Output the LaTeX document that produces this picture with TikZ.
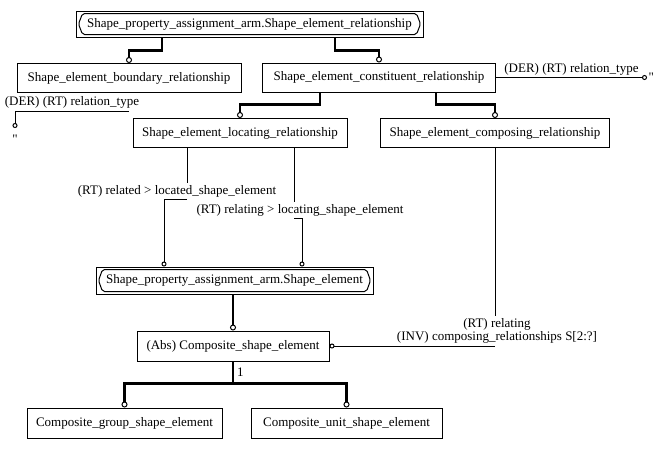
\documentclass[tikz,border=0pt]{standalone}
\usepackage{fontspec}
\setmainfont{Liberation Serif}
\usetikzlibrary{arrows.meta,calc}
\tikzset{
  box/.style={draw,line width=1pt,inner sep=0pt,minimum height=29},
  sub/.style={line width=2.4pt,-{Circle[open,length=6pt,line width=1pt]}},
  attr/.style={line width=1pt,-{Circle[open,length=5pt]}},
  lbl/.style={inner sep=2pt,align=center}
}
\begin{document}
\begin{tikzpicture}[x=1pt,y=-1pt,line width=1pt,font=\fontsize{13}{13.5}\selectfont]
        \useasboundingbox (0,0) rectangle (669,448);
        \node[box,minimum width=347,minimum height=26] (ser) at (249.5,24) {Shape\_property\_assignment\_arm.Shape\_element\_relationship};
        \node[box,minimum width=224] (sebr) at (129,78) {Shape\_element\_boundary\_relationship};
        \node[box,minimum width=233] (secr) at (379,77.5) {Shape\_element\_constituent\_relationship};
        \node[box,minimum width=214] (selr) at (240,133) {Shape\_element\_locating\_relationship};
        \node[box,minimum width=229] (secpr) at (495,133) {Shape\_element\_composing\_relationship};
        \node[box,minimum width=277,minimum height=27] (se) at (234.5,280.5) {Shape\_property\_assignment\_arm.Shape\_element};
        \node[box,minimum width=192,minimum height=30] (cse) at (233,346) {(Abs) Composite\_shape\_element};
        \node[box,minimum width=195,minimum height=30] (cgse) at (124.5,423) {Composite\_group\_shape\_element};
        \node[box,minimum width=191,minimum height=30] (cuse) at (346.5,423) {Composite\_unit\_shape\_element};
        \foreach \n in {ser,se}
          \draw[rounded corners=2pt] ($(\n.west)+(3,0)$) -- ($(\n.north west)+(7,3)$) -- ($(\n.north east)+(-7,3)$)
            -- ($(\n.east)+(-3,0)$) -- ($(\n.south east)+(-7,-3)$) -- ($(\n.south west)+(7,-3)$) -- cycle;

        \draw[sub] (162,0 |- ser.south) -- ++(0,13) -| (sebr.north);
        \draw[sub] (335,0 |- ser.south) -- ++(0,13) -| (secr.north);
        \draw[sub] (320,0 |- secr.south) -- ++(0,12) -| (selr.north);
        \draw[sub] (436,0 |- secr.south) -- ++(0,12) -| (secpr.north);
        \draw[sub] (cse.north |- se.south) -- (cse.north);
        \draw[line width=2.4pt] (cse.south) -- ++(0,22) coordinate (cj) node[midway,right,inner sep=3pt] (one) {1};
        \draw[sub] (cj) -| (cgse.north);
        \draw[sub] (cj) -| (cuse.north);

        \draw[attr] (secr.east) -- ++(151,0) node[midway,above,lbl] (der1) {(DER) (RT) relation\_type}
          node[right,inner sep=1pt] (q1) {\textquotedbl};
        \draw[attr] (sebr.south) ++(0,18) -| (15,128) node[pos=.25,above,lbl] (der2) {(DER) (RT) relation\_type};
        \node[below=5pt,inner sep=1pt] (q2) at (15,128) {\textquotedbl};

        \node[lbl] (rel1) at (177,191) {(RT) related > located\_shape\_element};
        \draw (187,0 |- selr.south) -- (187,0 |- rel1.north);
        \draw[attr] (187,0 |- rel1.south) -| (164,0 |- se.north);
        \node[lbl] (rel2) at (300,210) {(RT) relating > locating\_shape\_element};
        \draw (294,0 |- selr.south) -- (294,0 |- rel2.north);
        \draw[attr] (294,0 |- rel2.south) -| (302,0 |- se.north);
        \node[lbl] (rel3) at (497,331) {(RT) relating\\(INV) composing\_relationships S[2:?]};
        \draw (secpr.south) -- (secpr.south |- rel3.north);
        \draw[attr] (secpr.south |- cse.east) -- (cse.east);
      \end{tikzpicture}
\end{document}
